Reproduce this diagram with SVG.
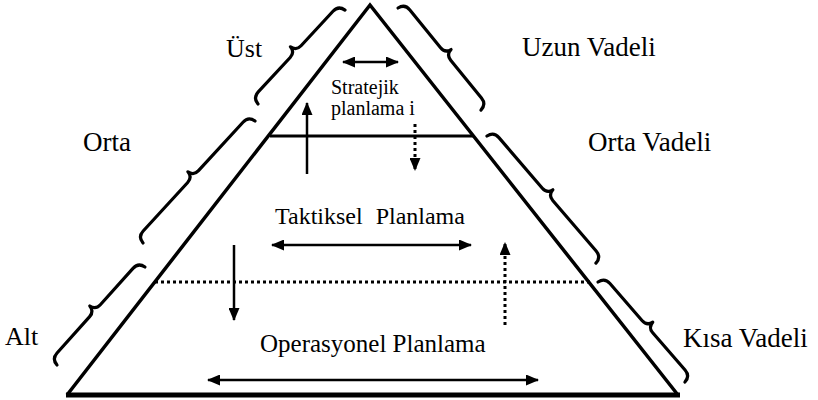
<svg xmlns="http://www.w3.org/2000/svg" width="818" height="400" viewBox="0 0 818 400">
<style>
text{font-family:"Liberation Serif","Times New Roman",serif;fill:#000}
.lbl{font-size:27px}
.in{font-size:24px}
.sm{font-size:20px}
.edge{fill:none;stroke:#000;stroke-width:3.5;stroke-linejoin:miter}
.brace{fill:none;stroke:#000;stroke-width:3.2;stroke-linecap:round;stroke-linejoin:round}
.arr{fill:none;stroke:#000;stroke-width:2.5}
.dot{fill:none;stroke:#000;stroke-width:3;stroke-dasharray:3 3}
</style>
<defs>
<marker id="ah" markerUnits="userSpaceOnUse" markerWidth="13" markerHeight="11" refX="12" refY="5.5" orient="auto-start-reverse">
<path d="M0,0 L13,5.5 L0,11 z" fill="#000"/>
</marker>
</defs>
<g id="pyramid">
<path class="edge" d="M67,395 L370,5 L678,395"/>
<line x1="66" y1="395" x2="680" y2="395" stroke="#000" stroke-width="5"/>
<line x1="270" y1="136" x2="473" y2="136" stroke="#000" stroke-width="3"/>
<line class="dot" x1="155" y1="282" x2="592" y2="282"/>
</g>
<g id="braces">
<path class="brace" transform="translate(258,104) rotate(-47.2)" d="M0,0 Q1,-8 9,-8 L56,-8 Q63,-8 64,-15 Q65,-8 72,-8 L119,-8 Q127,-8 128,0"/>
<path class="brace" transform="translate(143,243) rotate(-47.45)" d="M0,0 Q1,-8 9,-8 L74.8,-8 Q81.8,-8 82.8,-15 Q83.8,-8 90.8,-8 L156.6,-8 Q164.6,-8 165.6,0"/>
<path class="brace" transform="translate(57,365) rotate(-48.1)" d="M0,0 Q1,-8 9,-8 L57.8,-8 Q64.8,-8 65.8,-15 Q66.8,-8 73.8,-8 L122.7,-8 Q130.7,-8 131.7,0"/>
<path class="brace" transform="translate(398,8) rotate(50.9)" d="M0,0 Q1,-8 9,-8 L57.7,-8 Q64.7,-8 65.7,-15 Q66.7,-8 73.7,-8 L122.5,-8 Q130.5,-8 131.5,0"/>
<path class="brace" transform="translate(487,136) rotate(49.4)" d="M0,0 Q1,-8 9,-8 L75.7,-8 Q82.7,-8 83.7,-15 Q84.7,-8 91.7,-8 L158.4,-8 Q166.4,-8 167.4,0"/>
<path class="brace" transform="translate(598,282) rotate(49)" d="M0,0 Q1,-8 9,-8 L58.2,-8 Q65.2,-8 66.2,-15 Q67.2,-8 74.2,-8 L123.5,-8 Q131.5,-8 132.5,0"/>
</g>
<g id="connectors">
<line class="arr" x1="343" y1="62" x2="398" y2="62" marker-start="url(#ah)" marker-end="url(#ah)"/>
<line class="arr" x1="307" y1="174" x2="307" y2="103" marker-end="url(#ah)"/>
<line class="dot" x1="415" y1="124" x2="415" y2="170" marker-end="url(#ah)"/>
<line class="arr" x1="272" y1="245" x2="471" y2="245" marker-start="url(#ah)" marker-end="url(#ah)"/>
<line class="arr" x1="234" y1="245" x2="234" y2="320" marker-end="url(#ah)"/>
<line class="dot" x1="505" y1="325" x2="505" y2="243" marker-end="url(#ah)"/>
<line class="arr" x1="208" y1="380" x2="538" y2="380" marker-start="url(#ah)" marker-end="url(#ah)"/>
</g>
<g id="labels">
<text class="lbl" x="226" y="57" style="font-size:26px">Üst</text>
<text class="lbl" x="522" y="56">Uzun Vadeli</text>
<text class="sm" x="331" y="94">Stratejik</text>
<text class="sm" x="331" y="115">planlama i</text>
<text class="lbl" x="83" y="151">Orta</text>
<text class="lbl" x="588" y="151">Orta Vadeli</text>
<text class="in" x="275" y="224" style="word-spacing:7px">Taktiksel Planlama</text>
<text class="lbl" x="5" y="345" style="font-size:26px">Alt</text>
<text class="in" x="260" y="352" style="font-size:25px">Operasyonel Planlama</text>
<text class="lbl" x="683" y="347">Kısa Vadeli</text>
</g>
</svg>
